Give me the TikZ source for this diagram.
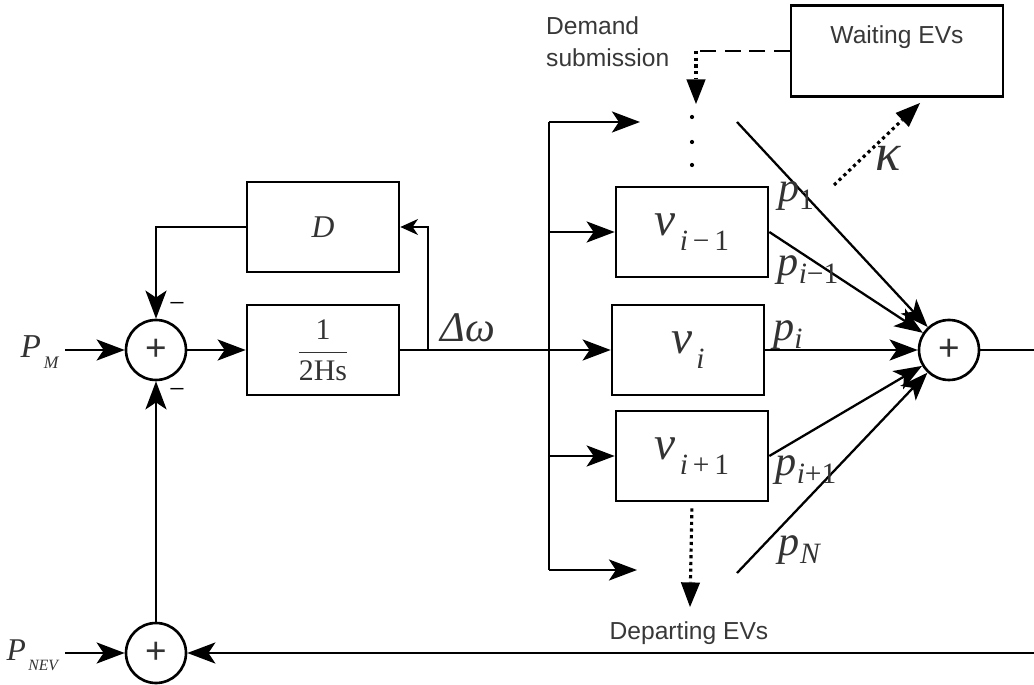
\documentclass[tikz,border=0pt]{standalone}
\usepackage{fontspec}
\setmainfont{Liberation Serif}
\setsansfont{Liberation Sans}
\usetikzlibrary{arrows.meta}

% italic letter with a lowered small subscript
\newcommand{\vsub}[2]{\textit{#1}\kern0.08em\raisebox{-0.32em}{\scalebox{0.62}{#2}}}
\newcommand{\psub}[2]{\textit{#1}\raisebox{-0.2em}{\scalebox{0.7}{#2}}}

\tikzset{
  blk/.style={draw, line width=1.5pt, minimum width=3.04cm, minimum height=1.8cm, inner sep=0pt},
  sumnode/.style={draw, circle, line width=1.5pt, minimum size=1.2cm, inner sep=0pt, font=\sffamily\fontsize{21}{21}\selectfont, text=black!80},
  sig/.style={line width=1.3pt, -{Stealth[length=16pt,width=12pt,inset=4pt]}},
  sigsmall/.style={line width=1.3pt, -{Stealth[length=10pt,width=9pt,inset=3pt]}},
  dotsig/.style={line width=1.8pt, dotted, -{Stealth[length=14pt,width=11pt,inset=0pt,line width=0pt]}},
  txt/.style={font=\sffamily\fontsize{14}{18}\selectfont, text=black!78},
  var/.style={font=\fontsize{24}{24}\selectfont, text=black!80},
}

\begin{document}
\begin{tikzpicture}[x=0.02cm, y=-0.02cm]
  \useasboundingbox (0,0) rectangle (1034,685);

  % summing junctions
  \node[sumnode] (sumA) at (156,350) {+};
  \node[sumnode] (sumB) at (156,653) {+};
  \node[sumnode] (sumC) at (949,350) {+};

  % blocks
  \node[blk, font=\fontsize{18}{18}\selectfont, text=black!80] (D) at (323,227) {\textit{D}};
  \node[blk, font=\fontsize{17}{17}\selectfont, text=black!80] (G) at (323,350) {$\displaystyle\frac{\mbox{1}}{\mbox{2Hs}}$};
  \node[blk, font=\fontsize{27}{27}\selectfont, text=black!80] (Vim) at (692,232) {\vsub{v}{\textit{i}\,−\,1}};
  \node[blk, font=\fontsize{27}{27}\selectfont, text=black!80] (Vi) at (688,350) {\vsub{v}{\textit{i}}};
  \node[blk, font=\fontsize{27}{27}\selectfont, text=black!80] (Vip) at (692,456) {\vsub{v}{\textit{i}\,+\,1}};
  \node[blk, minimum width=4.24cm, minimum height=1.82cm] (Wait) at (897,51) {};
  \node[txt] (waitlbl) at (897,37) {Waiting EVs};

  % free ends
  \coordinate (pm) at (65,350);
  \coordinate (pnev) at (65,653);
  \coordinate (tap) at (428,350);
  \coordinate (busT) at (549,122);
  \coordinate (busB) at (549,570);
  \coordinate (topin) at (640,122);
  \coordinate (botin) at (637,570);
  \coordinate (corner) at (696,51);
  \coordinate (dtip) at (696,104);
  \coordinate (p1start) at (737,122);
  \coordinate (pNstart) at (737,573);
  \coordinate (kstart) at (834,185);
  \coordinate (ktip) at (920,103);
  \coordinate (deptip) at (690,607);
  \coordinate (out) at (1034,350);
  \coordinate (fb) at (1034,653);

  % inputs and feedback
  \draw[sig] (pm) -- (sumA);
  \draw[sig] (sumA) -- (G);
  \draw[sig] (D.west) -| (sumA.north);
  \draw[sigsmall] (tap) |- (D.east);
  \draw[sig] (G.east) -- (Vi.west);
  \draw[line width=1.3pt] (busT) -- (busB);
  \draw[sig] (busT) -- (topin);
  \draw[sig] (busB) -- (botin);
  \draw[sig] (busT |- Vim.west) -- (Vim.west);
  \draw[sig] (busT |- Vip.west) -- (Vip.west);

  % demand and departures
  \draw[line width=1.5pt, dashed, dash pattern=on 9pt off 5pt] (Wait.west) -- (corner);
  \draw[dotsig] (corner) -- (dtip);
  \foreach \y in {117,142,165} \fill (692,\y) circle (1.2pt);
  \draw[dotsig, shorten <=3.5pt] (Vip.south) -- (deptip);
  \draw[dotsig] (kstart) -- (ktip);

  % outputs
  \draw[sig] (p1start) -- (sumC);
  \draw[sig] (Vim.east) -- (sumC);
  \draw[sig] (Vi.east) -- (sumC);
  \draw[sig] (Vip.east) -- (sumC);
  \draw[sig] (pNstart) -- (sumC);
  \draw[line width=1.3pt] (sumC) -- (out);
  \draw[sig] (fb) -- (sumB);
  \draw[sig] (pnev) -- (sumB);
  \draw[sig] (sumB) -- (sumA);

  % labels
  \node[font=\fontsize{19}{19}\selectfont, text=black!80] (pmlbl) at (40,352) {\vsub{P}{\scalebox{0.85}{\textit{M}}}};
  \node[font=\fontsize{18}{18}\selectfont, text=black!80] (pnevlbl) at (33,655) {\vsub{P}{\scalebox{0.8}{\textit{NEV}}}};
  \node[font=\fontsize{16}{16}\selectfont] (mtop) at (177,307) {−};
  \node[font=\fontsize{16}{16}\selectfont] (mbot) at (177,393) {−};
  \node[var] (dw) at (468,328) {\textit{Δω}};
  \node[var] (p1) at (796,196) {\psub{p}{1}};
  \node[var] (pim) at (808,270) {\psub{p}{\textit{i}−1}};
  \node[var] (pi) at (788,335) {\psub{p}{\textit{i}}};
  \node[var] (pip) at (806,470) {\psub{p}{\textit{i}+1}};
  \node[var] (pN) at (800,550) {\psub{p}{\textit{N}}};
  \node[font=\fontsize{30}{30}\selectfont, text=black!80] (kap) at (888,158) {\textit{κ}};
  \node[txt, align=left, anchor=west] (demand) at (540,42) {Demand\\submission};
  \node[txt] (depart) at (689,633) {Departing EVs};
\end{tikzpicture}
\end{document}
